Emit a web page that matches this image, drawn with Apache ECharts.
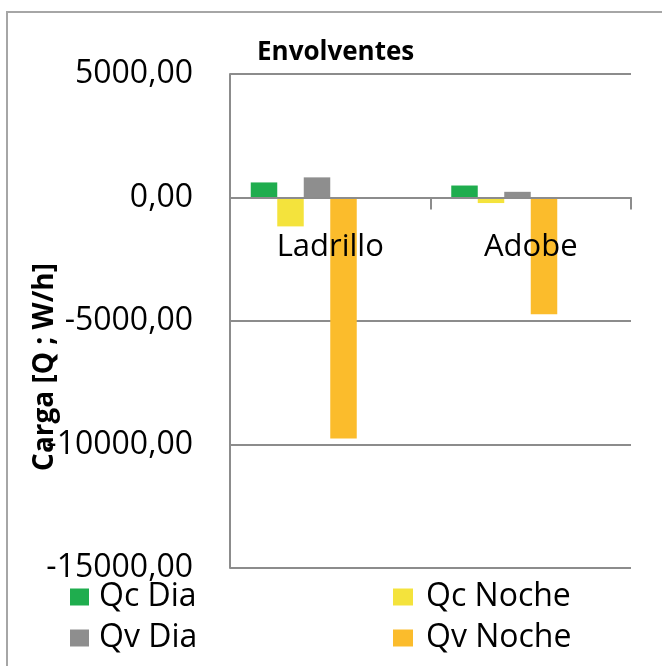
<!DOCTYPE html>
<html>
<head>
<meta charset="utf-8">
<script src="https://cdn.jsdelivr.net/npm/echarts@6/dist/echarts.min.js"></script>
<style>
  html, body { margin: 0; padding: 0; background: #fff; }
  #chart { width: 662px; height: 666px; }
</style>
</head>
<body>
<div id="chart"></div>
<script>
// datos de cargas por envolvente
var categorias = ['Ladrillo', 'Adobe'];
var qcDia = [610, 485];
var qcNoche = [-1170, -225];
var qvDia = [815, 230];
var qvNoche = [-9760, -4730];

var colores = ['#1fad4e', '#f4e33c', '#8e8e8e', '#fbbc2c'];
var fuente = '"Open Sans", "Noto Sans", sans-serif';

var chart = echarts.init(document.getElementById('chart'));

function serie(nombre, datos, color) {
  return {
    name: nombre,
    type: 'bar',
    data: datos,
    barWidth: 26.5,
    barGap: '0%',
    itemStyle: { color: color }
  };
}

var options = {
  animation: false,
  // marco del gráfico
  graphic: [{
    type: 'rect',
    shape: { x: 7, y: 12, width: 700, height: 700 },
    style: { fill: 'none', stroke: '#a6a6a6', lineWidth: 2 },
    silent: true
  }],
  title: {
    text: 'Envolventes',
    left: 252,
    top: 35,
    textStyle: { fontFamily: fuente, fontSize: 26, fontWeight: 'bold', color: '#000' }
  },
  legend: [
    {
      data: ['Qc Dia', 'Qv Dia'],
      orient: 'vertical',
      left: 70,
      top: 581,
      padding: 0,
      icon: 'rect',
      itemWidth: 19,
      itemHeight: 17,
      itemGap: 9,
      textStyle: { fontFamily: fuente, fontSize: 32, lineHeight: 32, color: '#000', padding: [0, 0, 0, 5] }
    },
    {
      data: ['Qc Noche', 'Qv Noche'],
      orient: 'vertical',
      left: 393,
      top: 581,
      padding: 0,
      icon: 'rect',
      itemWidth: 20,
      itemHeight: 17,
      itemGap: 9,
      textStyle: { fontFamily: fuente, fontSize: 32, lineHeight: 32, color: '#000', padding: [0, 0, 0, 8] }
    }
  ],
  grid: { left: 230, top: 74, width: 401, height: 494 },
  xAxis: {
    type: 'category',
    data: categorias,
    z: 5,
    axisLine: { onZero: true, lineStyle: { color: '#8c8c8c', width: 2 } },
    axisTick: { show: true, length: 12, lineStyle: { color: '#8c8c8c', width: 2 } },
    // las etiquetas quedan abajo; se suben bajo la línea del cero
    axisLabel: { fontFamily: fuente, fontSize: 31, color: '#000', margin: -336 }
  },
  yAxis: {
    type: 'value',
    min: -15000,
    max: 5000,
    interval: 5000,
    name: 'Carga [Q ; W/h]',
    nameLocation: 'middle',
    nameRotate: 90,
    nameGap: 171,
    nameMoveOverlap: false,
    nameTextStyle: { fontFamily: fuente, fontSize: 28, fontWeight: 'bold', color: '#000', padding: [0, 92, 0, 0] },
    axisLine: { show: true, lineStyle: { color: '#8c8c8c', width: 2 } },
    axisTick: { show: false },
    splitLine: { lineStyle: { color: '#8c8c8c', width: 2 } },
    axisLabel: {
      fontFamily: fuente,
      fontSize: 32,
      color: '#000',
      margin: 37,
      formatter: function (v) { return v.toFixed(2).replace('.', ','); }
    }
  },
  series: [
    serie('Qc Dia', qcDia, colores[0]),
    serie('Qc Noche', qcNoche, colores[1]),
    serie('Qv Dia', qvDia, colores[2]),
    serie('Qv Noche', qvNoche, colores[3]),
    // dos series vacías, ocupan su hueco como en la hoja original
    serie('s5', [null, null], '#fff'),
    serie('s6', [null, null], '#fff')
  ]
};

chart.setOption(options);
</script>
</body>
</html>
